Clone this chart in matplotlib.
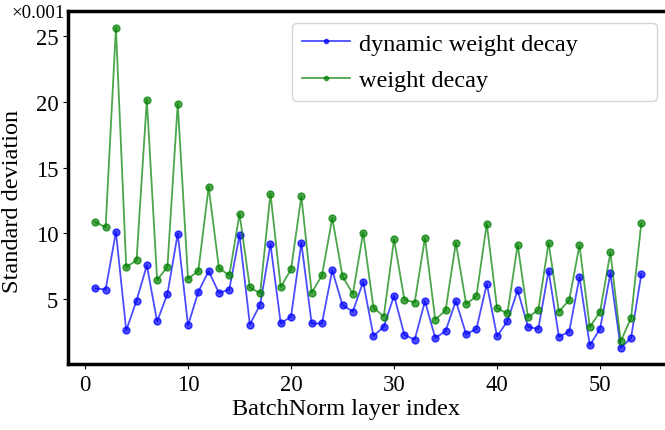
import matplotlib
matplotlib.use('Agg')
import matplotlib.pyplot as plt

plt.rcParams['font.family'] = ['Liberation Serif', 'DejaVu Serif']

# std of BatchNorm weights, in units of 0.001
layer_index = list(range(1, 55))
dynamic_wd = [5.81, 5.71, 10.10, 2.60, 4.87, 7.55, 3.28, 5.38, 9.97, 2.98,
              5.55, 7.12, 5.45, 5.71, 9.87, 3.05, 4.57, 9.17, 3.13, 3.66,
              9.27, 3.13, 3.13, 7.17, 4.52, 4.04, 6.31, 2.17, 2.88, 5.25,
              2.27, 1.89, 4.82, 2.02, 2.55, 4.85, 2.30, 2.73, 6.14, 2.14,
              3.31, 5.66, 2.88, 2.70, 7.15, 2.12, 2.50, 6.67, 1.46, 2.73,
              6.94, 1.26, 2.02, 6.87]
plain_wd = [10.86, 10.45, 25.66, 7.42, 7.95, 20.18, 6.44, 7.45, 19.87, 6.52,
            7.15, 13.53, 7.35, 6.79, 11.47, 5.88, 5.43, 13.03, 5.91, 7.25,
            12.83, 5.48, 6.79, 11.16, 6.72, 5.38, 10.05, 4.34, 3.66, 9.55,
            4.95, 4.72, 9.65, 3.43, 4.12, 9.27, 4.59, 5.23, 10.73, 4.29,
            3.89, 9.12, 3.61, 4.14, 9.27, 4.04, 4.90, 9.09, 2.85, 4.02,
            8.54, 1.77, 3.54, 10.76]

fig = plt.figure(figsize=(6.65, 4.31), dpi=100)
ax = fig.add_axes([0.1023, 0.1531, 0.9031, 0.8179])

ax.plot(layer_index, dynamic_wd, '-o', color='blue', alpha=0.7, lw=1.3, ms=5,
        label='dynamic weight decay')
ax.plot(layer_index, plain_wd, '-o', color='green', alpha=0.7, lw=1.3, ms=5,
        label='weight decay')

ax.set_xlim(-1.65, 56.65)
ax.set_ylim(0.04, 26.9)
ax.set_yticks([5, 10, 15, 20, 25])
ax.set_xticks([0, 10, 20, 30, 40, 50])
ax.tick_params(labelsize=16.3)
for s in ax.spines.values():
    s.set_linewidth(2.5)

ax.set_xlabel('BatchNorm layer index', fontsize=17.5, labelpad=2)
ax.set_ylabel('Standard deviation', fontsize=17.5, labelpad=9)
ax.xaxis.label.set_x(0.463)
ax.yaxis.label.set_y(0.465)
fig.text(0.018, 0.958, '×0.001', fontsize=13.6, ha='left', va='baseline')

ax.legend(loc='upper left', fontsize=17.5, markerscale=0.6, mode='expand',
          bbox_to_anchor=(0.373, 0.5, 0.608, 0.467), borderaxespad=0,
          handletextpad=0.35, labelspacing=0.6)

fig.savefig('out.png', dpi=100)
